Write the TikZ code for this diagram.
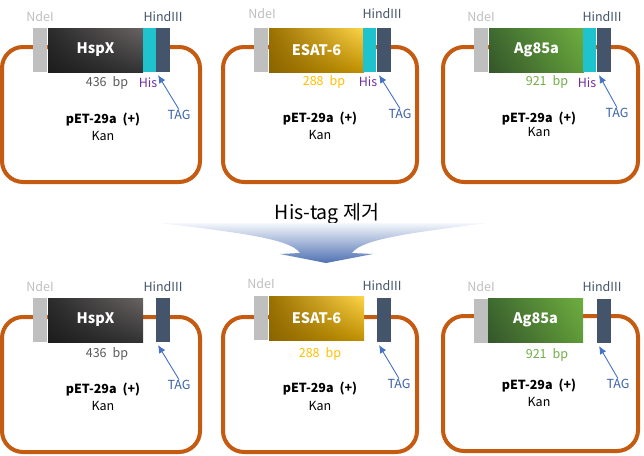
\documentclass[tikz,border=0pt]{standalone}
\usepackage{fontspec}
\usetikzlibrary{arrows.meta,shadings}
\setmainfont{Noto Sans CJK KR}
\definecolor{loopc}{HTML}{C55A11}
\definecolor{graybox}{HTML}{BFBFBF}
\definecolor{hisc}{HTML}{1FC3CD}
\definecolor{tagc}{HTML}{44546A}
\definecolor{tagt}{HTML}{4472C4}
\definecolor{purp}{HTML}{7030A0}
\definecolor{goldt}{HTML}{FFC000}
\definecolor{greent}{HTML}{70AD47}
\definecolor{hspa}{HTML}{1C1C1C}
\definecolor{hspb}{HTML}{333333}
\definecolor{hspc}{HTML}{2B2B2B}
\definecolor{hspd}{HTML}{6A6464}
\definecolor{esa}{HTML}{8A6400}
\definecolor{esb}{HTML}{C09000}
\definecolor{esc}{HTML}{9A7000}
\definecolor{esd}{HTML}{FFD54A}
\definecolor{aga}{HTML}{34552A}
\definecolor{agb}{HTML}{5F9A38}
\definecolor{agc}{HTML}{3E6A30}
\definecolor{agd}{HTML}{6FAE40}
\definecolor{arrowb}{HTML}{4F71B2}
\newcommand{\wsp}{\hspace{6pt}}
\tikzset{
 x=1pt,y=-1pt,
 plasmid/.style={draw=loopc,line width=4pt,rounded corners=21pt},
 box/.style={anchor=north west,inner sep=0pt,outer sep=0pt,minimum height=44pt,draw=none},
 graybx/.style={box,fill=graybox,minimum width=14pt},
 hisbx/.style={box,fill=hisc,minimum width=13pt},
 tagbx/.style={box,fill=tagc,minimum width=14pt},
 genebx/.style={box,minimum width=95pt,text=white,font=\fontsize{14.5}{16}\selectfont\bfseries},
 hsp/.style={genebx,shade,lower left=hspa,lower right=hspb,upper left=hspc,upper right=hspd},
 esat/.style={genebx,shade,lower left=esa,lower right=esb,upper left=esc,upper right=esd},
 ag/.style={genebx,shade,lower left=aga,lower right=agb,upper left=agc,upper right=agd},
 lab/.style={inner sep=0pt,yshift=-1.5pt,font=\fontsize{12.5}{14}\selectfont},
 nde/.style={lab,text=graybox},
 hind/.style={lab,text=tagc},
 bp/.style={lab,text=black!65},
 hist/.style={lab,text=purp},
 tagl/.style={lab,text=tagt!85!black},
 pet/.style={lab,font=\fontsize{12.5}{14}\selectfont\bfseries,text=black},
 kan/.style={lab,text=black},
 tagarrow/.style={draw=tagt,line width=0.9pt,-{Latex[length=8pt,width=7pt]}},
}
\newcommand{\tagtip}[1]{([shift={(2pt,-3pt)}]#1.south west)}
\begin{document}
\begin{tikzpicture}
\useasboundingbox (0,0) rectangle (644,455);
% top left
\draw[plasmid] (2,47) rectangle (200,182);
\node[graybx] (g1) at (33,28) {};
\node[hsp] (s1) at (48,28) {HspX};
\node[hisbx] (h1) at (143,28) {};
\node[tagbx] (t1) at (156,28) {};
\node[nde] (n1) at (40,15) {NdeI};
\node[hind] (d1) at (163,15) {HindIII};
\node[bp] (b1) at (107,81) {436\wsp bp};
\node[hist] (i1) at (148,81) {His};
\node[tagl] (a1) at (179,113) {TAG};
\node[pet] (p1) at (103,118) {pET-29a\wsp (+)};
\node[kan] (k1) at (103,134) {Kan};
\draw[tagarrow] (a1.north) -- \tagtip{t1};
% top middle
\draw[plasmid] (223,47) rectangle (417,182);
\node[graybx] (g2) at (254,28) {};
\node[esat] (s2) at (269,28) {ESAT-6};
\node[hisbx] (h2) at (363,28) {};
\node[tagbx] (t2) at (377,28) {};
\node[nde] (n2) at (262,12) {NdeI};
\node[hind] (d2) at (382,12) {HindIII};
\node[bp,text=goldt] (b2) at (324,80) {288\wsp bp};
\node[hist] (i2) at (368,80) {His};
\node[tagl] (a2) at (400,112) {TAG};
\node[pet] (p2) at (320,117) {pET-29a\wsp (+)};
\node[kan] (k2) at (320,133) {Kan};
\draw[tagarrow] (a2.north) -- \tagtip{t2};
% top right
\draw[plasmid] (443,47) rectangle (638,182);
\node[graybx] (g3) at (474,28) {};
\node[ag] (s3) at (489,28) {Ag85a};
\node[hisbx] (h3) at (583,28) {};
\node[tagbx] (t3) at (597,28) {};
\node[nde] (n3) at (481,15) {NdeI};
\node[hind] (d3) at (602,15) {HindIII};
\node[bp,text=greent] (b3) at (547,80) {921\wsp bp};
\node[hist] (i3) at (587,81) {His};
\node[tagl] (a3) at (617,111) {TAG};
\node[pet] (p3) at (539,117) {pET-29a\wsp (+)};
\node[kan] (k3) at (539,130) {Kan};
\draw[tagarrow] (a3.north) -- \tagtip{t3};
% middle arrow
\node[font=\fontsize{19.5}{22}\selectfont] (title) at (327,214) {His-tag 제거};
\shade[top color=tagt!6,bottom color=arrowb]
 (160,223) -- (487,223) .. controls (420,232) and (362,238) .. (352,253)
 -- (373,254) -- (326,263) -- (280,254) -- (300,253)
 .. controls (290,238) and (232,232) .. (160,223) -- cycle;
% bottom left
\draw[plasmid] (2,317) rectangle (200,452);
\node[graybx] (g4) at (33,298) {};
\node[hsp] (s4) at (48,298) {HspX};
\node[tagbx] (t4) at (156,298) {};
\node[nde] (n4) at (40,285) {NdeI};
\node[hind] (d4) at (163,285) {HindIII};
\node[bp] (b4) at (107,352) {436\wsp bp};
\node[tagl] (a4) at (179,383) {TAG};
\node[pet] (p4) at (103,388) {pET-29a\wsp (+)};
\node[kan] (k4) at (103,404) {Kan};
\draw[tagarrow] (a4.north) -- \tagtip{t4};
% bottom middle
\draw[plasmid] (223,317) rectangle (417,452);
\node[graybx] (g5) at (254,296) {};
\node[esat] (s5) at (269,296) {ESAT-6};
\node[tagbx] (t5) at (377,298) {};
\node[nde] (n5) at (261,282) {NdeI};
\node[hind] (d5) at (382,284) {HindIII};
\node[bp,text=goldt] (b5) at (320,352) {288\wsp bp};
\node[tagl] (a5) at (399,382) {TAG};
\node[pet] (p5) at (320,387) {pET-29a\wsp (+)};
\node[kan] (k5) at (320,404) {Kan};
\draw[tagarrow] (a5.north) -- \tagtip{t5};
% bottom right
\draw[plasmid] (443,316) rectangle (638,451);
\node[graybx] (g6) at (474,299) {};
\node[ag] (s6) at (488,298) {Ag85a};
\node[tagbx] (t6) at (597,299) {};
\node[nde] (n6) at (481,285) {NdeI};
\node[hind] (d6) at (602,285) {HindIII};
\node[bp,text=greent] (b6) at (547,353) {921\wsp bp};
\node[tagl] (a6) at (618,382) {TAG};
\node[pet] (p6) at (539,384) {pET-29a\wsp (+)};
\node[kan] (k6) at (539,400) {Kan};
\draw[tagarrow] (a6.north) -- \tagtip{t6};
\end{tikzpicture}
\end{document}
